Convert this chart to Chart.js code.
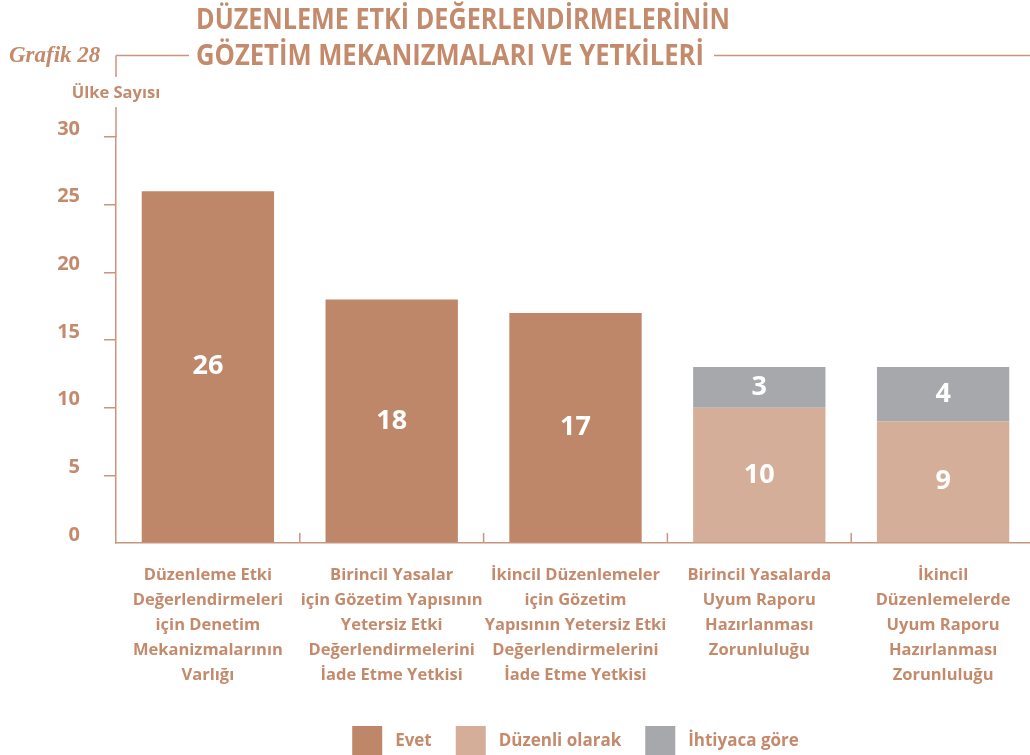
<!DOCTYPE html>
<html lang="tr">
<head>
<meta charset="utf-8">
<title>Grafik 28</title>
<script src="https://cdn.jsdelivr.net/npm/chart.js@4.4.1/dist/chart.umd.min.js"></script>
<style>
  html, body { margin: 0; padding: 0; background: #fff; overflow: hidden; }
  #wrap { position: relative; width: 1035px; height: 766px; }
</style>
</head>
<body>
<div id="wrap"><canvas id="chart"></canvas></div>
<script>
// Kategoriler (çok satırlı etiketler)
const categories = [
    ['Düzenleme Etki', 'Değerlendirmeleri', 'için Denetim', 'Mekanizmalarının', 'Varlığı'],
    ['Birincil Yasalar', 'için Gözetim Yapısının', 'Yetersiz Etki', 'Değerlendirmelerini', 'İade Etme Yetkisi'],
    ['İkincil Düzenlemeler', 'için Gözetim', 'Yapısının Yetersiz Etki', 'Değerlendirmelerini', 'İade Etme Yetkisi'],
    ['Birincil Yasalarda', 'Uyum Raporu', 'Hazırlanması', 'Zorunluluğu'],
    ['İkincil', 'Düzenlemelerde', 'Uyum Raporu', 'Hazırlanması', 'Zorunluluğu']
];
const evet = [26, 18, 17, null, null];
const duzenli = [null, null, null, 10, 9];
const ihtiyaca = [null, null, null, 3, 4];
const seriesNames = ['Evet', 'Düzenli olarak', 'İhtiyaca göre'];
const yMin = 0, yMax = 30, yStep = 5;

const titleLines = ['DÜZENLEME ETKİ DEĞERLENDİRMELERİNİN', 'GÖZETİM MEKANIZMALARI VE YETKİLERİ'];
const chartNo = 'Grafik 28';
const yTitle = 'Ülke Sayısı';

const tan = '#C48A6C';
const lineColor = '#C9967C';
const colors = ['#BE8769', '#D4AE98', '#A7A8AB'];
const sans = '"Open Sans", Lato, sans-serif';

// Başlık, çizgiler ve eksen başlığı
const decorPlugin = {
    id: 'decor',
    afterDraw(chart) {
        const ctx = chart.ctx;
        const area = chart.chartArea;
        const ax = area.left;
        ctx.save();
        ctx.strokeStyle = lineColor;
        ctx.lineWidth = 1.5;
        ctx.beginPath();
        ctx.moveTo(ax, 55.5); ctx.lineTo(189, 55.5);
        ctx.moveTo(ax, 55.5); ctx.lineTo(ax, 77);
        ctx.moveTo(ax, 107); ctx.lineTo(ax, area.top);
        ctx.moveTo(714, 55.5); ctx.lineTo(chart.width, 55.5);
        ctx.stroke();

        ctx.fillStyle = tan;
        ctx.textBaseline = 'middle';
        ctx.textAlign = 'left';
        ctx.font = 'italic bold 23px "Liberation Serif", serif';
        ctx.fillText(chartNo, 9, 56);

        ctx.font = 'bold 28px ' + sans;
        ctx.fillText(titleLines[0], 196, 21, 534);
        ctx.fillText(titleLines[1], 196, 57, 508);

        ctx.textAlign = 'center';
        ctx.font = 'bold 16.5px ' + sans;
        ctx.fillText(yTitle, ax, 93);

        // kategori ayraçları
        const x = chart.scales.x;
        const base = area.bottom;
        ctx.beginPath();
        for (let i = 0; i < categories.length - 1; i++) {
            const px = (x.getPixelForTick(i) + x.getPixelForTick(i + 1)) / 2;
            ctx.moveTo(px, base); ctx.lineTo(px, base - 10);
        }
        ctx.stroke();
        ctx.restore();
    }
};

// Çubuk içi değer etiketleri
const valuePlugin = {
    id: 'values',
    afterDatasetsDraw(chart) {
        const ctx = chart.ctx;
        ctx.save();
        ctx.fillStyle = '#fff';
        ctx.font = 'bold 27px ' + sans;
        ctx.textAlign = 'center';
        ctx.textBaseline = 'middle';
        chart.data.datasets.forEach((ds, di) => {
            const meta = chart.getDatasetMeta(di);
            meta.data.forEach((el, i) => {
                const v = ds.data[i];
                if (v === null || v === undefined) return;
                const p = el.getProps(['x', 'y', 'base'], true);
                ctx.fillText(String(v), p.x, (p.y + p.base) / 2);
            });
        });
        ctx.restore();
    }
};

// Lejantı çizim alanına göre ortala
const legendShift = {
    id: 'legendShift',
    afterLayout(chart) {
        const lg = chart.legend;
        const a = chart.chartArea;
        const shift = (a.left + a.right) / 2 - (lg.left + lg.right) / 2;
        lg.left += shift;
        lg.right += shift;
    }
};

const ctx = document.getElementById('chart').getContext('2d');
new Chart(ctx, {
    type: 'bar',
    data: {
        labels: categories,
        datasets: [evet, duzenli, ihtiyaca].map((d, i) => ({
            label: seriesNames[i],
            data: d,
            backgroundColor: colors[i],
            borderWidth: 0,
            categoryPercentage: 1,
            barPercentage: 0.72
        }))
    },
    options: {
        responsive: true,
        maintainAspectRatio: false,
        animation: false,
        layout: { padding: { top: 137, left: 0, right: 0, bottom: 0 } },
        scales: {
            x: {
                stacked: true,
                grid: { display: false },
                border: { display: true, color: lineColor, width: 1.5 },
                ticks: {
                    color: tan,
                    padding: 12,
                    maxRotation: 0,
                    autoSkip: false,
                    font: { family: sans, size: 16.5, weight: 'bold', lineHeight: '25px' }
                },
                afterFit(scale) { scale.height = 159; }
            },
            y: {
                stacked: true,
                min: yMin,
                max: yMax,
                grid: {
                    drawOnChartArea: false,
                    tickLength: 12,
                    lineWidth: 1.5,
                    color: c => c.tick && c.tick.value === 0 ? 'rgba(0,0,0,0)' : lineColor
                },
                border: { display: true, color: lineColor, width: 1.5 },
                ticks: {
                    stepSize: yStep,
                    color: tan,
                    padding: 24,
                    labelOffset: -8,
                    font: { family: sans, size: 20, weight: 'bold' }
                },
                afterFit(scale) { scale.width = 116; }
            }
        },
        plugins: {
            tooltip: { enabled: false },
            legend: {
                position: 'bottom',
                labels: {
                    color: tan,
                    boxWidth: 30,
                    boxHeight: 30,
                    padding: 24,
                    font: { family: sans, size: 17, weight: 'bold' },
                    generateLabels(chart) {
                        return chart.data.datasets.map((ds, i) => ({
                            text: ' ' + ds.label,
                            fillStyle: ds.backgroundColor,
                            strokeStyle: ds.backgroundColor,
                            lineWidth: 0,
                            fontColor: tan,
                            datasetIndex: i,
                            hidden: false
                        }));
                    }
                }
            }
        }
    },
    plugins: [decorPlugin, valuePlugin, legendShift]
});
</script>
</body>
</html>
